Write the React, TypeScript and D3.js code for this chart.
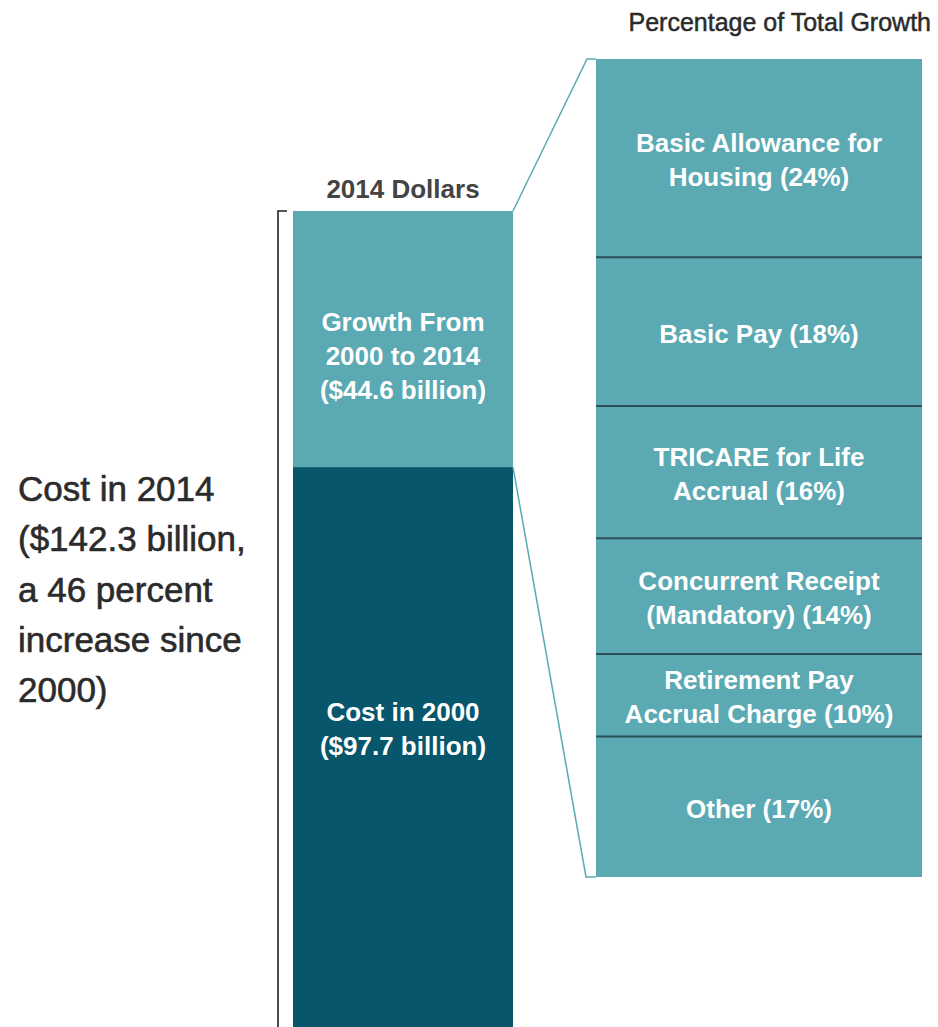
import React from "react";
import * as d3 from "d3";

// ---- data ----
const costCategories = ["Cost in 2000", "Growth From|2000 to 2014"];
const costValues = [97.7, 44.6];
const growthCategories = [
  "Basic Allowance for|Housing",
  "Basic Pay",
  "TRICARE for Life|Accrual",
  "Concurrent Receipt|(Mandatory)",
  "Retirement Pay|Accrual Charge",
  "Other",
];
const growthShares = [24, 18, 16, 14, 10, 17];
const barTitle = "2014 Dollars";
const panelTitle = "Percentage of Total Growth";

const LIGHT = "#5BA9B2";
const DARK = "#07566B";
const FONT = "'Liberation Sans', Arial, sans-serif";

export default function App() {
  const W = 938;
  const H = 1027;

  // left stacked bar
  const total = d3.sum(costValues);
  const y = d3.scaleLinear().domain([0, total]).range([1028, 211]);
  const x = d3.scaleBand().domain(["2014"]).range([293, 513]).padding(0);
  const bx0 = x("2014") as number;
  const bw = x.bandwidth();
  const costCum = d3.cumsum(costValues);
  const costSegs = costValues.map((v, i) => ({
    name: costCategories[i],
    v,
    y0: y(costCum[i] - v),
    y1: y(costCum[i]),
  }));

  // right panel
  const growthTotal = d3.sum(growthShares);
  const yR = d3.scaleLinear().domain([0, growthTotal]).range([59, 877]);
  const xR = d3.scaleBand().domain(["growth"]).range([596, 922]);
  const rx0 = xR("growth") as number;
  const rw = xR.bandwidth();
  const gCum = d3.cumsum(growthShares);
  const gSegs = growthShares.map((v, i) => ({
    name: growthCategories[i],
    v,
    top: yR(gCum[i] - v),
    bot: yR(gCum[i]),
  }));

  const growthTop = y(total);
  const growthBottom = y(costValues[0]);
  const pct = (costValues[1] / costValues[0]) * 100;
  const fmt1 = d3.format(".1f");

  const leftLines = [
    "Cost in 2014",
    `($${fmt1(total)} billion,`,
    `a ${Math.round(pct)} percent`,
    "increase since",
    "2000)",
  ];

  const LH = 34;
  const renderLines = (lines: string[], cx: number, cy: number, key: string) => {
    const first = cy - ((lines.length - 1) * LH) / 2 + 11;
    return (
      <text
        key={key}
        x={cx}
        textAnchor="middle"
        fontFamily={FONT}
        fontWeight={700}
        fontSize={26}
        fill="#ffffff"
      >
        {lines.map((l, j) => (
          <tspan key={j} x={cx} y={first + j * LH}>
            {l}
          </tspan>
        ))}
      </text>
    );
  };

  return (
    <svg
      width={W}
      height={H}
      style={{ position: "absolute", left: 0, top: 0, display: "block", background: "#fff" }}
    >
      {/* panel title */}
      <text
        x={931}
        y={31}
        textAnchor="end"
        fontFamily={FONT}
        fontSize={25}
        fill="#2b2b2b"
        stroke="#2b2b2b"
        strokeWidth={0.5}
      >
        {panelTitle}
      </text>

      {/* bar title */}
      <text
        x={bx0 + bw / 2}
        y={198}
        textAnchor="middle"
        fontFamily={FONT}
        fontWeight={700}
        fontSize={26}
        fill="#444444"
      >
        {barTitle}
      </text>

      {/* bracket */}
      <path
        d={`M${bx0 - 6},${growthTop} H${278} V${H + 2}`}
        fill="none"
        stroke="#222"
        strokeWidth={1.6}
      />

      {/* left stacked bar */}
      {costSegs.map((s, i) => (
        <rect
          key={s.name}
          x={bx0}
          y={s.y1}
          width={bw}
          height={s.y0 - s.y1}
          fill={i === 0 ? DARK : LIGHT}
        />
      ))}
      {costSegs.map((s, i) => {
        const lines = [...s.name.split("|"), `($${fmt1(s.v)} billion)`];
        const cy = i === 0 ? s.y1 + (s.y0 - s.y1) * 0.45 + 8 : (s.y0 + s.y1) / 2 + 15;
        return renderLines(lines, bx0 + bw / 2, cy, "c" + i);
      })}

      {/* connectors */}
      <path
        d={`M${bx0 + bw},${growthTop} L${rx0 - 9},${yR(0)} H${rx0}`}
        fill="none"
        stroke={LIGHT}
        strokeWidth={1.5}
      />
      <path
        d={`M${bx0 + bw},${growthBottom} L${rx0 - 10},${yR(growthTotal)} H${rx0}`}
        fill="none"
        stroke={LIGHT}
        strokeWidth={1.5}
      />

      {/* right panel */}
      {gSegs.map((s) => (
        <rect key={s.name} x={rx0} y={s.top} width={rw} height={s.bot - s.top} fill={LIGHT} />
      ))}
      {gSegs.slice(1).map((s) => (
        <line
          key={"d" + s.name}
          x1={rx0}
          x2={rx0 + rw}
          y1={s.top}
          y2={s.top}
          stroke="#2D5058"
          strokeWidth={2}
        />
      ))}
      {gSegs.map((s, i) => {
        const parts = s.name.split("|");
        parts[parts.length - 1] = `${parts[parts.length - 1]} (${s.v}%)`;
        return renderLines(parts, rx0 + rw / 2, (s.top + s.bot) / 2, "g" + i);
      })}

      {/* left annotation */}
      <text fontFamily={FONT} fontSize={35} fill="#2b2b2b" stroke="#2b2b2b" strokeWidth={0.6}>
        {leftLines.map((l, j) => (
          <tspan key={j} x={18} y={501 + j * 50.3}>
            {l}
          </tspan>
        ))}
      </text>
    </svg>
  );
}
